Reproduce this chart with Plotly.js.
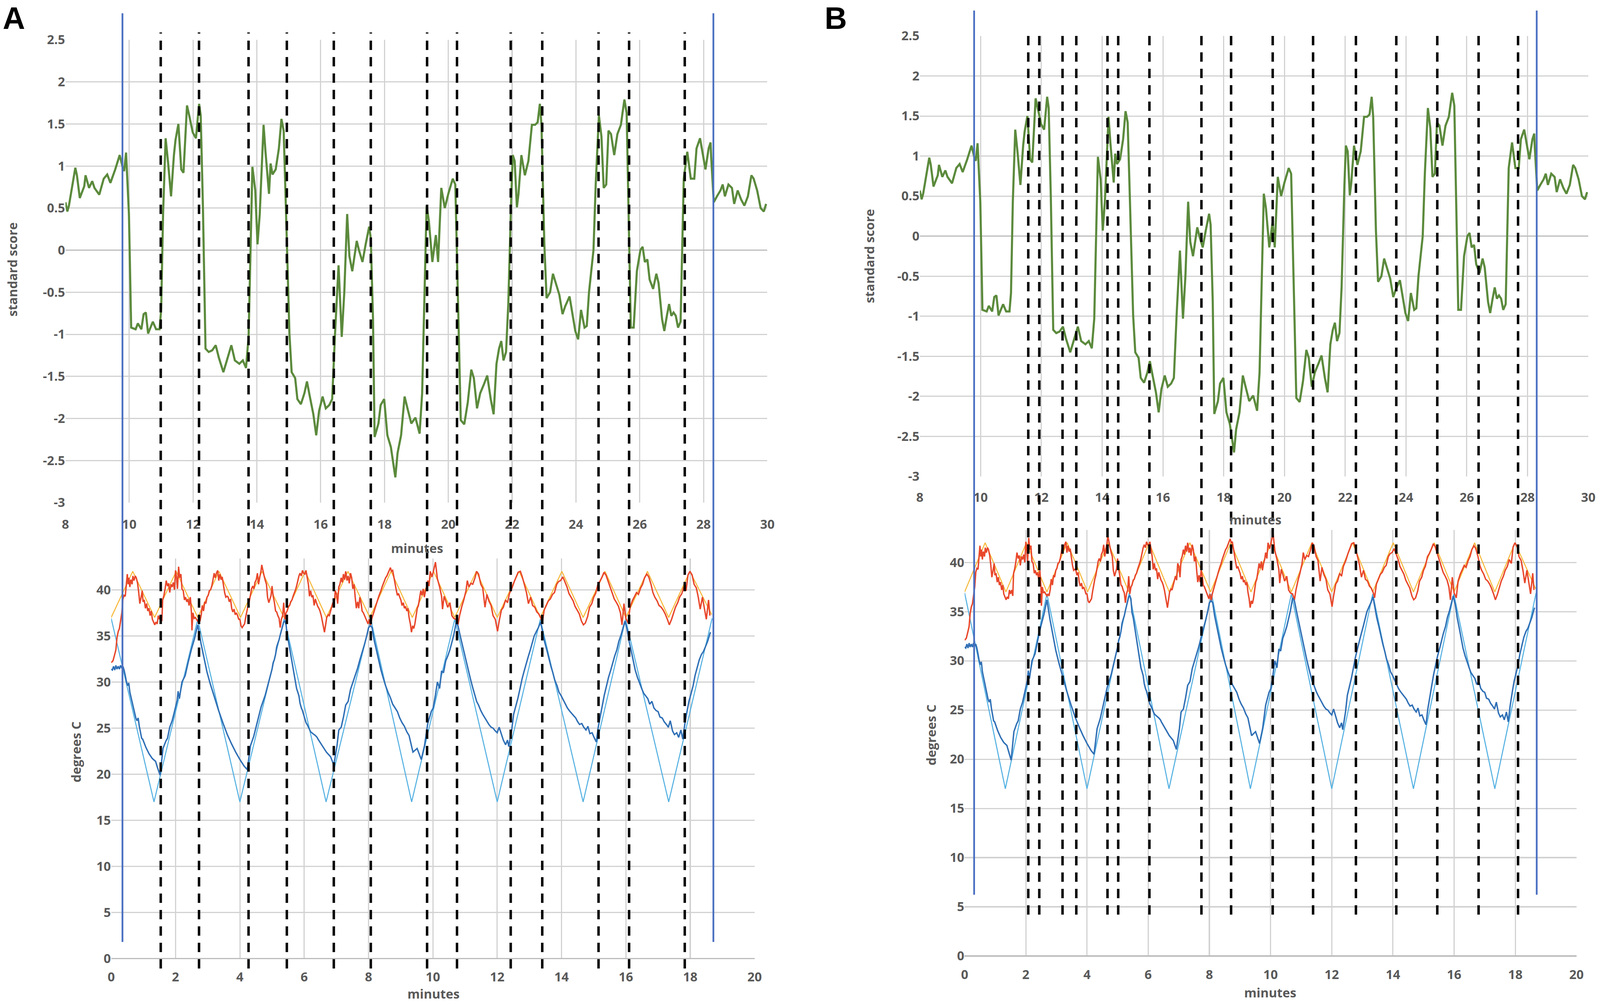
<!DOCTYPE html>
<html>
<head>
<meta charset="utf-8">
<script src="https://cdn.plot.ly/plotly-3.0.1.min.js"></script>
<style>
  html, body { margin: 0; padding: 0; background: #ffffff; overflow: hidden; }
  #gd { width: 100vw; height: 100vh; }
</style>
</head>
<body>
<div id="gd"></div>
<script>
// standard score (top panels), [minute, score]
const scorePts = [
  [8.0,0.57],[8.06,0.46],[8.11,0.53],[8.24,0.80],[8.31,0.98],[8.36,0.89],[8.45,0.62],[8.59,0.76],[8.63,0.89],[8.74,0.74],
  [8.84,0.82],[8.91,0.74],[9.06,0.66],[9.2,0.85],[9.31,0.90],[9.41,0.80],[9.56,0.96],[9.7,1.13],[9.79,0.99],[9.84,0.94],
  [9.9,1.16],[9.99,0.43],[10.06,-0.92],[10.2,-0.94],[10.27,-0.87],[10.38,-0.94],[10.45,-0.76],[10.52,-0.74],[10.59,-0.99],[10.74,-0.85],
  [10.84,-0.94],[10.95,-0.94],[11.0,-0.71],[11.06,0.43],[11.14,1.33],[11.22,1.03],[11.31,0.64],[11.4,1.13],[11.45,1.31],[11.54,1.50],
  [11.63,0.96],[11.7,0.92],[11.81,1.72],[11.88,1.60],[11.99,1.40],[12.09,1.33],[12.19,1.74],[12.24,1.60],[12.31,0.50],[12.39,-1.17],
  [12.49,-1.21],[12.6,-1.19],[12.71,-1.13],[12.81,-1.28],[12.95,-1.45],[13.06,-1.31],[13.2,-1.13],[13.31,-1.31],[13.45,-1.35],[13.56,-1.31],
  [13.66,-1.40],[13.74,-1.03],[13.81,0.25],[13.86,0.99],[13.95,0.71],[14.02,0.07],[14.09,0.43],[14.13,0.78],[14.21,1.49],[14.27,1.17],
  [14.38,0.67],[14.43,1.03],[14.49,0.90],[14.59,0.96],[14.69,1.21],[14.77,1.56],[14.84,1.42],[14.91,0.50],[15.02,-0.99],[15.09,-1.45],
  [15.2,-1.52],[15.27,-1.77],[15.38,-1.83],[15.49,-1.70],[15.57,-1.56],[15.66,-1.74],[15.77,-1.95],[15.86,-2.20],[15.95,-1.91],[16.06,-1.74],
  [16.16,-1.88],[16.27,-1.84],[16.36,-1.77],[16.45,-0.99],[16.56,-0.18],[16.66,-1.03],[16.74,-0.50],[16.83,0.43],[16.9,-0.07],[16.99,-0.25],
  [17.13,0.11],[17.2,0.00],[17.31,-0.14],[17.41,0.07],[17.52,0.28],[17.57,0.14],[17.64,-0.82],[17.69,-2.22],[17.81,-2.06],[17.88,-1.84],
  [17.99,-1.77],[18.09,-2.20],[18.2,-2.34],[18.34,-2.70],[18.41,-2.41],[18.52,-2.20],[18.63,-1.74],[18.74,-1.91],[18.84,-2.06],[18.97,-1.99],
  [19.1,-2.18],[19.18,-1.70],[19.25,-0.64],[19.32,0.53],[19.39,0.35],[19.5,-0.14],[19.61,0.18],[19.68,-0.14],[19.78,0.74],[19.89,0.50],
  [20.0,0.67],[20.14,0.85],[20.22,0.78],[20.29,-0.28],[20.39,-2.02],[20.5,-2.07],[20.61,-1.81],[20.72,-1.42],[20.8,-1.52],[20.9,-1.88],
  [21.0,-1.70],[21.11,-1.60],[21.22,-1.49],[21.33,-1.77],[21.42,-1.95],[21.51,-1.35],[21.59,-1.17],[21.66,-1.08],[21.73,-1.31],[21.81,-1.21],
  [21.88,-0.64],[21.97,0.60],[22.02,1.13],[22.08,1.06],[22.15,0.51],[22.2,0.67],[22.29,1.13],[22.4,0.89],[22.51,1.06],[22.62,1.49],
  [22.72,1.49],[22.8,1.52],[22.87,1.74],[22.92,1.49],[23.01,0.07],[23.08,-0.57],[23.19,-0.50],[23.28,-0.28],[23.37,-0.39],[23.48,-0.53],
  [23.58,-0.76],[23.66,-0.67],[23.8,-0.55],[23.91,-0.78],[23.98,-0.96],[24.07,-1.06],[24.16,-0.71],[24.27,-0.92],[24.34,-0.90],[24.41,-0.50],
  [24.48,-0.25],[24.55,0.00],[24.62,0.78],[24.72,1.60],[24.8,1.35],[24.87,0.74],[24.95,0.78],[25.02,1.42],[25.1,1.38],[25.2,1.13],
  [25.3,1.38],[25.41,1.49],[25.46,1.63],[25.52,1.79],[25.59,1.63],[25.65,0.43],[25.72,-0.92],[25.81,-0.92],[25.91,-0.25],[26.02,0.00],
  [26.09,0.04],[26.16,-0.14],[26.24,-0.11],[26.31,-0.35],[26.42,-0.46],[26.52,-0.28],[26.59,-0.39],[26.7,-0.82],[26.77,-0.96],[26.85,-0.78],
  [26.92,-0.64],[26.99,-0.78],[27.06,-0.74],[27.13,-0.78],[27.2,-0.92],[27.28,-0.85],[27.33,0.07],[27.38,0.85],[27.49,1.17],[27.6,0.85],
  [27.71,0.85],[27.78,1.21],[27.89,1.33],[27.97,1.17],[28.06,0.96],[28.16,1.21],[28.22,1.28],[28.24,1.10],[28.32,0.57],[28.42,0.64],
  [28.53,0.71],[28.6,0.78],[28.67,0.64],[28.78,0.78],[28.89,0.74],[28.96,0.55],[29.07,0.71],[29.18,0.60],[29.28,0.53],[29.39,0.64],
  [29.5,0.89],[29.57,0.85],[29.68,0.71],[29.79,0.50],[29.89,0.46],[29.96,0.55]
];

// measured warm-side temperature (red), [minute, degrees C]
const warmPts = [
  [0,32.1],[0.055,32.3],[0.11,33.0],[0.146,33.5],[0.18,34.8],[0.22,35.5],[0.255,35.8],[0.29,36.6],[0.33,37.5],[0.364,39.0],
  [0.40,39.4],[0.437,39.3],[0.47,40.8],[0.50,41.7],[0.53,40.6],[0.55,41.3],[0.58,40.3],[0.61,41.1],[0.65,40.6],[0.674,41.5],
  [0.71,41.0],[0.747,41.5],[0.78,41.3],[0.82,40.7],[0.856,39.7],[0.89,38.5],[0.93,39.2],[0.965,39.9],[0.99,38.7],[1.027,38.9],
  [1.064,38.0],[1.10,38.5],[1.137,37.7],[1.173,38.0],[1.21,37.2],[1.246,37.7],[1.28,36.8],[1.32,36.5],[1.355,36.2],[1.39,36.5],
  [1.43,36.3],[1.464,37.2],[1.50,36.8],[1.537,37.2],[1.574,36.6],[1.60,38.9],[1.64,39.4],[1.676,40.1],[1.71,41.0],[1.75,40.4],
  [1.785,40.7],[1.82,39.7],[1.86,40.6],[1.894,40.3],[1.93,40.8],[1.967,40.0],[2.0,42.1],[2.03,41.4],[2.06,40.1],[2.095,42.5],
  [2.13,41.3],[2.167,41.7],[2.2,40.1],[2.24,39.9],[2.277,38.9],[2.31,39.2],[2.35,38.7],[2.386,39.0],[2.42,38.3],[2.46,39.2],
  [2.495,37.5],[2.51,35.6],[2.54,37.5],[2.58,36.9],[2.616,37.0],[2.65,36.8],[2.69,36.6],[2.725,36.8],[2.76,36.6],[2.8,37.3],
  [2.83,38.3],[2.87,37.7],[2.907,38.7],[2.94,38.5],[2.98,39.2],[3.016,39.4],[3.05,39.9],[3.09,40.0],[3.126,40.4],[3.16,41.0],
  [3.2,41.8],[3.235,41.3],[3.27,41.8],[3.31,42.1],[3.344,41.0],[3.38,41.7],[3.417,41.1],[3.45,41.4],[3.49,40.6],[3.526,39.7],
  [3.563,39.2],[3.6,39.3],[3.636,39.2],[3.67,38.7],[3.71,39.0],[3.745,38.0],[3.78,37.6],[3.82,37.9],[3.854,37.3],[3.89,37.5],
  [3.93,37.2],[3.964,36.8],[4.0,36.8],[4.036,36.1],[4.07,35.9],[4.11,36.1],[4.146,36.3],[4.18,37.0],[4.22,37.7],[4.255,38.3],
  [4.29,38.7],[4.33,39.4],[4.364,40.1],[4.4,40.4],[4.437,40.1],[4.47,40.8],[4.51,41.1],[4.546,41.8],[4.58,40.6],[4.62,41.4],
  [4.655,42.0],[4.68,42.7],[4.72,42.0],[4.754,41.5],[4.79,41.0],[4.827,40.6],[4.86,39.2],[4.9,38.6],[4.936,39.0],[4.97,39.4],
  [5.0,40.4],[5.035,39.3],[5.07,38.7],[5.11,37.7],[5.144,37.6],[5.18,37.2],[5.22,36.9],[5.254,35.9],[5.29,36.8],[5.33,37.2],
  [5.363,38.6],[5.4,36.8],[5.436,37.5],[5.47,37.7],[5.51,38.2],[5.545,38.3],[5.58,38.7],[5.62,38.9],[5.654,39.3],[5.69,39.6],
  [5.73,40.0],[5.763,40.4],[5.8,41.0],[5.836,41.5],[5.87,41.8],[5.91,41.5],[5.946,42.1],[5.98,41.8],[6.02,41.7],[6.055,42.1],
  [6.09,41.4],[6.13,40.6],[6.164,39.3],[6.2,39.9],[6.237,39.2],[6.27,39.4],[6.31,38.3],[6.346,39.0],[6.38,38.6],[6.42,38.2],
  [6.456,38.0],[6.49,37.7],[6.53,37.2],[6.565,36.6],[6.6,36.1],[6.63,35.4],[6.67,36.3],[6.70,37.0],[6.75,37.3],[6.78,37.2],
  [6.82,37.7],[6.856,38.2],[6.89,38.6],[6.93,38.2],[6.965,39.9],[7.0,39.6],[7.04,38.5],[7.075,40.3],[7.11,40.6],[7.15,41.3],
  [7.185,40.8],[7.22,41.7],[7.257,41.1],[7.29,42.0],[7.33,41.0],[7.366,41.5],[7.4,40.7],[7.44,41.8],[7.476,41.3],[7.51,40.1],
  [7.55,40.6],[7.585,39.2],[7.62,38.0],[7.66,38.7],[7.695,38.0],[7.73,39.2],[7.767,38.6],[7.8,37.7],[7.84,37.5],[7.876,37.2],
  [7.91,36.9],[7.95,36.6],[7.985,36.3],[8.02,36.8],[8.06,36.1],[8.095,36.8],[8.13,37.2],[8.17,37.7],[8.204,38.0],[8.24,38.5],
  [8.277,38.9],[8.31,39.2],[8.35,39.6],[8.386,39.9],[8.42,40.3],[8.46,40.7],[8.495,41.0],[8.53,41.3],[8.57,41.5],[8.605,41.8],
  [8.64,42.0],[8.68,42.4],[8.714,42.0],[8.75,42.1],[8.787,41.4],[8.82,40.7],[8.86,40.0],[8.896,39.4],[8.93,39.6],[8.97,39.2],
  [9.005,38.9],[9.04,38.3],[9.08,38.6],[9.115,38.0],[9.15,38.2],[9.19,37.7],[9.225,38.0],[9.26,37.0],[9.3,36.3],[9.334,35.4],
  [9.37,36.1],[9.406,35.8],[9.44,36.3],[9.48,37.2],[9.515,38.0],[9.55,38.3],[9.59,39.2],[9.625,39.9],[9.66,39.4],[9.7,40.1],
  [9.735,39.2],[9.77,39.9],[9.807,40.3],[9.84,41.0],[9.88,40.4],[9.917,42.0],[9.97,41.4],
  [10.01,41.9],[10.08,43.0],[10.14,41.2],[10.21,40.3],[10.27,39.3],[10.30,37.9],[10.35,39.3],[10.4,38.8],[10.46,38.1],[10.53,38.6],
  [10.59,37.2],[10.65,36.9],[10.72,36.8],[10.78,36.2],[10.83,37.2],[10.9,38.2],[10.96,38.9],[11.03,39.9],[11.07,41.0],[11.12,40.3],
  [11.18,40.7],[11.24,40.6],[11.31,41.3],[11.36,42.0],[11.42,41.7],[11.49,40.6],[11.55,40.2],[11.62,38.1],[11.68,39.5],[11.74,38.8],
  [11.81,38.3],[11.87,37.2],[11.94,36.8],[12.01,35.5],[12.06,36.6],[12.13,37.8],[12.19,38.1],[12.26,38.9],[12.32,38.6],[12.38,39.6],
  [12.46,40.2],[12.53,40.9],[12.59,41.4],[12.65,41.9],[12.72,42.0],[12.78,41.4],[12.85,40.5],[12.91,39.7],[12.97,38.5],[13.04,39.2],
  [13.1,38.3],[13.17,38.1],[13.23,37.6],[13.29,37.4],[13.36,36.9],[13.4,36.4],[13.46,37.8],[13.53,38.3],[13.59,38.8],[13.65,39.0],
  [13.72,39.5],[13.78,39.7],[13.85,40.6],[13.91,40.9],[13.97,41.0],[14.04,41.4],[14.1,40.9],[14.17,40.3],[14.23,39.6],[14.29,39.2],
  [14.36,38.8],[14.42,38.2],[14.49,37.8],[14.55,37.4],[14.62,36.6],[14.68,36.2],[14.74,36.4],[14.81,37.1],[14.87,38.1],[14.94,38.5],
  [15.0,39.2],[15.06,39.6],[15.13,40.6],[15.19,40.9],[15.26,41.4],[15.32,41.9],[15.38,41.6],[15.45,40.9],[15.51,40.2],[15.58,39.5],
  [15.64,39.0],[15.71,38.6],[15.77,38.2],[15.83,37.5],[15.88,36.2],[15.94,38.5],[16.0,36.9],[16.07,36.4],[16.13,38.1],[16.2,38.8],
  [16.26,39.2],[16.33,39.7],[16.39,39.5],[16.46,40.2],[16.52,40.6],[16.58,41.3],[16.65,41.7],[16.71,41.4],[16.78,40.6],[16.84,39.7],
  [16.9,39.2],[16.97,38.8],[17.03,38.3],[17.1,38.1],[17.16,37.8],[17.22,37.4],[17.29,36.8],[17.35,36.2],[17.42,36.8],[17.48,37.5],
  [17.54,38.1],[17.61,38.6],[17.67,39.2],[17.74,39.6],[17.8,40.3],[17.87,39.9],[17.93,41.6],[17.99,42.0],[18.06,41.6],[18.12,40.6],
  [18.19,40.2],[18.25,39.2],[18.31,37.9],[18.38,39.2],[18.44,38.1],[18.5,36.8],[18.57,38.9],[18.61,37.2]
];

// measured cold-side temperature (dark blue)
const coldPts = [
  [0,31.4],[0.036,31.3],[0.073,31.7],[0.11,31.3],[0.146,31.8],[0.18,31.4],[0.22,31.7],[0.255,31.4],[0.29,31.8],[0.33,31.5],
  [0.364,31.7],[0.40,31.3],[0.437,30.7],[0.47,30.1],[0.51,29.6],[0.546,29.9],[0.58,28.9],[0.62,28.3],[0.656,27.7],[0.69,27.2],
  [0.73,26.6],[0.765,26.1],[0.80,25.8],[0.838,26.1],[0.874,25.2],[0.91,24.5],[0.947,23.9],[0.98,23.8],[1.08,22.9],[1.18,22.2],
  [1.28,21.7],[1.38,21.4],[1.44,20.7],[1.52,19.9],[1.61,22.8],[1.7,23.6],[1.75,23.9],[1.82,25.1],[1.894,25.8],[1.967,26.8],
  [2.05,28.0],[2.08,29.0],[2.12,28.2],[2.2,30.0],[2.3,30.7],[2.39,32.1],[2.49,33.5],[2.59,34.7],[2.69,36.2],[2.79,34.2],
  [2.89,32.6],[2.98,31.05],[3.08,29.8],[3.21,28.3],[3.34,26.9],[3.48,25.5],[3.61,24.3],[3.74,23.3],[3.87,22.4],[4.0,21.6],
  [4.13,20.9],[4.23,20.5],[4.33,23.1],[4.43,24.1],[4.52,25.4],[4.66,27.3],[4.79,28.6],[4.92,30.4],[5.0,31.4],[5.035,32.1],
  [5.07,32.4],[5.11,33.0],[5.144,33.8],[5.18,34.2],[5.22,34.6],[5.254,35.1],[5.29,35.6],[5.33,36.1],[5.363,36.5],[5.4,36.6],
  [5.436,36.3],[5.47,34.9],[5.51,34.4],[5.545,33.7],[5.58,33.0],[5.62,32.3],[5.654,31.5],[5.69,30.8],[5.73,30.1],[5.763,29.3],
  [5.8,28.9],[5.836,28.5],[5.87,27.7],[5.91,27.2],[5.946,26.9],[5.98,26.5],[6.02,26.1],[6.055,25.6],[6.09,25.4],[6.13,25.1],
  [6.2,24.6],[6.27,24.4],[6.346,24.2],[6.4,24.0],[6.43,23.8],[6.56,23.1],[6.69,22.4],[6.82,21.9],[6.92,21.0],[7.02,23.1],
  [7.075,24.8],[7.15,25.1],[7.22,26.2],[7.29,27.5],[7.366,27.9],[7.44,29.2],[7.51,29.9],[7.585,30.7],[7.66,31.5],[7.73,32.4],
  [7.8,33.2],[7.876,34.1],[7.95,35.1],[8.0,35.9],[8.06,36.1],[8.11,35.9],[8.17,34.6],[8.24,33.5],[8.31,32.4],[8.386,31.3],
  [8.46,30.4],[8.53,29.6],[8.605,28.9],[8.68,28.3],[8.75,27.6],[8.82,27.2],[8.896,26.8],[8.97,26.1],[9.04,25.6],[9.115,25.2],
  [9.19,24.6],[9.26,24.2],[9.38,22.4],[9.51,22.8],[9.64,21.6],[9.74,23.1],[9.84,25.5],
  [9.95,26.8],[10.01,27.2],[10.08,28.6],[10.14,30.0],[10.21,29.3],[10.27,31.2],[10.33,31.0],[10.4,32.3],[10.46,32.8],[10.53,33.5],
  [10.59,34.3],[10.65,35.1],[10.72,36.4],[10.78,36.1],[10.85,35.0],[10.91,34.1],[10.97,33.3],[11.04,32.3],[11.1,31.3],[11.17,30.3],
  [11.23,29.5],[11.29,28.8],[11.36,27.9],[11.42,27.5],[11.49,26.9],[11.55,26.5],[11.62,26.1],[11.68,25.8],[11.74,25.4],[11.81,25.1],
  [11.87,25.0],[11.94,24.7],[12.0,24.5],[12.06,25.1],[12.13,24.3],[12.19,23.7],[12.26,23.2],[12.32,23.7],[12.36,23.0],[12.45,24.8],
  [12.51,26.5],[12.58,27.4],[12.64,28.2],[12.71,29.3],[12.77,30.3],[12.83,31.1],[12.9,32.0],[12.96,32.7],[13.03,33.5],[13.09,34.3],
  [13.15,35.0],[13.22,35.5],[13.28,35.9],[13.35,36.5],[13.41,35.5],[13.47,34.4],[13.54,33.5],[13.6,32.6],[13.67,31.7],[13.73,31.0],
  [13.79,30.2],[13.86,29.6],[13.92,28.9],[13.99,28.5],[14.05,28.1],[14.12,27.6],[14.18,27.2],[14.24,26.9],[14.31,26.6],[14.37,26.4],
  [14.44,26.1],[14.5,25.7],[14.56,25.4],[14.63,25.5],[14.69,25.1],[14.76,24.8],[14.82,25.2],[14.88,24.4],[14.95,24.5],[15.01,24.0],
  [15.08,23.5],[15.14,25.1],[15.21,26.5],[15.27,27.5],[15.33,28.6],[15.4,29.6],[15.46,30.5],[15.53,31.3],[15.59,32.1],[15.65,32.8],
  [15.72,33.5],[15.78,34.4],[15.85,35.1],[15.91,35.9],[15.97,36.6],[16.04,35.7],[16.1,34.4],[16.17,33.3],[16.23,32.3],[16.29,31.3],
  [16.36,30.5],[16.42,29.9],[16.49,29.3],[16.55,28.8],[16.62,28.5],[16.68,28.2],[16.74,27.6],[16.81,27.9],[16.87,27.2],[16.94,26.9],
  [17.0,26.8],[17.06,26.2],[17.13,26.1],[17.19,25.7],[17.26,25.4],[17.32,25.1],[17.38,25.8],[17.45,24.7],[17.51,24.3],[17.58,24.5],
  [17.64,24.0],[17.71,24.8],[17.77,23.8],[17.83,25.4],[17.9,26.8],[17.96,27.9],[18.03,28.8],[18.09,29.6],[18.15,30.7],[18.22,31.6],
  [18.28,32.4],[18.35,33.0],[18.41,33.3],[18.47,33.8],[18.54,34.4],[18.6,35.1],[18.63,35.4]
];

// set-point profiles (corners of the triangle waves)
const warmSetPts = [
  [0,37],[0.67,42],[1.35,37],[2.02,42],[2.69,37],[3.35,42],[4.02,37],[4.69,42],[5.37,37],[6.03,42],
  [6.69,37],[7.36,42],[8.04,37],[8.7,42],[9.36,37],[10.02,42],[10.68,37],[11.35,42],[12.0,37],[12.68,42],
  [13.34,37],[14.01,42],[14.67,37],[15.35,42],[16.0,37],[16.67,42],[17.33,37],[17.99,42],[18.67,37.3]
];
const coldSetPts = [
  [0,36.9],[1.33,17],[2.69,36.8],[4.0,17],[5.38,36.9],[6.68,17],[8.07,36.8],[9.34,17],[10.68,36.8],[12.0,17],
  [13.34,36.8],[14.67,17],[15.99,36.8],[17.33,17],[18.68,36.9]
];

// event markers, in minutes of the lower panels
const dashA = [1.54, 2.73, 4.27, 5.46, 6.92, 8.07, 9.82, 10.75, 12.42, 13.40, 15.15, 16.10, 17.83];
const dashB = [2.08, 2.44, 3.20, 3.65, 4.67, 5.02, 6.04, 7.74, 8.71, 10.07, 11.39, 12.79, 14.11, 15.45, 16.80, 18.09];
const boundsA = [0.35, 18.72];
const boundsB = [0.31, 18.70];

// tick labels
const scoreTicks = [2.5, 2, 1.5, 1, 0.5, 0, -0.5, -1, -1.5, -2, -2.5, -3];
const scoreTickText = ['2.5', '2', '1.5', '1', '0.5', '0', '-0.5', '-1', '-1.5', '-2', '-2.5', '-3'];
const topMinuteTicks = [8, 10, 12, 14, 16, 18, 20, 22, 24, 26, 28, 30];
const bottomMinuteTicks = [0, 2, 4, 6, 8, 10, 12, 14, 16, 18, 20];
const degreeTicks = [0, 5, 10, 15, 20, 25, 30, 35, 40];

const green = '#5b8a3c';
const red = '#e8472b';
const gold = '#f6b93b';
const skyBlue = '#55b1e2';
const deepBlue = '#2f6fb5';
const markerBlue = '#4a6fc0';

// the design is laid out on a 4550 x 2576 sheet; scale pixel sizes to the real viewport
const W = window.innerWidth || 4550;
const H = window.innerHeight || 2576;
const sx = W / 4550, sy = H / 2576;
const s = Math.min(sx, sy);
const px = v => v * s;

const xs = pts => pts.map(p => p[0]);
const ys = pts => pts.map(p => p[1]);

const gd = document.getElementById('gd');

function line(pts, color, width, xa, ya) {
  return { x: xs(pts), y: ys(pts), type: 'scatter', mode: 'lines',
           line: { color: color, width: px(width) }, xaxis: xa, yaxis: ya, hoverinfo: 'skip' };
}

const data = [
  line(scorePts, green, 6, 'x', 'y'),
  line(warmSetPts, gold, 3, 'x2', 'y2'),
  line(coldSetPts, skyBlue, 3, 'x2', 'y2'),
  line(warmPts, red, 4, 'x2', 'y2'),
  line(coldPts, deepBlue, 4, 'x2', 'y2'),
  line(scorePts, green, 6, 'x3', 'y3'),
  line(warmSetPts, gold, 3, 'x4', 'y4'),
  line(coldSetPts, skyBlue, 3, 'x4', 'y4'),
  line(warmPts, red, 4, 'x4', 'y4'),
  line(coldPts, deepBlue, 4, 'x4', 'y4')
];

const tickFont = { family: 'Open Sans, sans-serif', size: px(36), color: '#595959', weight: 'bold' };
const grid = '#d2d2d2';

// labels are pushed off the plot edge with a standoff instead of ticks
function axis(domain, range, vals, text, gap, extra) {
  return Object.assign({
    domain: domain, range: range, tickvals: vals, ticktext: text || vals.map(String),
    showgrid: true, gridcolor: grid, gridwidth: px(3.4), zeroline: false, showline: false,
    ticks: '', ticklabelposition: 'outside', ticklabelstandoff: gap, tickfont: tickFont, fixedrange: true
  }, extra || {});
}

const zeroGray = { zeroline: true, zerolinecolor: '#bcbcbc', zerolinewidth: px(3.4) };

// vertical markers span both panels of a figure, so they live in paper space vertically
const shapes = [];
const dashPattern = (24 * sy) + 'px,' + (18 * sy) + 'px';
function markers(list, xref, y0, y1, color, width, dash) {
  list.forEach(t => shapes.push({
    type: 'line', xref: xref, yref: 'paper', x0: t, x1: t, y0: y0, y1: y1,
    line: { color: color, width: px(width), dash: dash }
  }));
}
markers(dashA, 'x2', 0.0373, 0.9678, '#000000', 7, dashPattern);
markers(boundsA, 'x2', 0.0637, 0.9868, markerBlue, 5, 'solid');
markers(dashB, 'x4', 0.0908, 0.9693, '#000000', 7, dashPattern);
markers(boundsB, 'x4', 0.1106, 0.9895, markerBlue, 5, 'solid');

const titleFont = { family: 'Open Sans, sans-serif', size: px(36), color: '#595959', weight: 'bold' };
function label(text, x, y, angle) {
  return { text: text, xref: 'paper', yref: 'paper', x: x / 4550, y: 1 - y / 2576,
           showarrow: false, textangle: angle || 0, font: titleFont, xanchor: 'center', yanchor: 'middle' };
}
const panelFont = { family: 'Liberation Sans Narrow, Liberation Sans, Arial, sans-serif', size: px(88), color: '#000000', weight: 'bold' };

const layout = {
  width: W, height: H,
  paper_bgcolor: '#ffffff', plot_bgcolor: '#ffffff',
  margin: { l: 0, r: 0, t: 0, b: 0 },
  showlegend: false,
  xaxis:  axis([0.0409, 0.4796], [8, 30], topMinuteTicks, null, 34 * sy, { anchor: 'y' }),
  yaxis:  axis([0.5004, 0.9604], [-3, 2.5], scoreTicks, scoreTickText, 58 * sx, Object.assign({ anchor: 'x' }, zeroGray)),
  xaxis2: axis([0.0695, 0.4716], [0, 20], bottomMinuteTicks, null, 25 * sy, { anchor: 'y2' }),
  yaxis2: axis([0.047, 0.4449], [0, 43.4], degreeTicks, null, 24 * sx, Object.assign({ anchor: 'x2' }, zeroGray)),
  xaxis3: axis([0.5749, 0.9927], [8, 30], topMinuteTicks, null, 32 * sy, { anchor: 'y3' }),
  yaxis3: axis([0.5264, 0.9643], [-3, 2.5], scoreTicks, scoreTickText, 30 * sx, Object.assign({ anchor: 'x3' }, zeroGray)),
  xaxis4: axis([0.6029, 0.9853], [0, 20], bottomMinuteTicks, null, 26 * sy, { anchor: 'y4' }),
  yaxis4: axis([0.0497, 0.4732], [0, 43.3], degreeTicks, null, 22 * sx, Object.assign({ anchor: 'x4' }, zeroGray)),
  shapes: shapes,
  annotations: [
    { text: 'A', xref: 'paper', yref: 'paper', x: 39 / 4550, y: 1 - 46 / 2576, showarrow: false, font: panelFont, xanchor: 'center', yanchor: 'middle' },
    { text: 'B', xref: 'paper', yref: 'paper', x: 2377 / 4550, y: 1 - 46 / 2576, showarrow: false, font: panelFont, xanchor: 'center', yanchor: 'middle' },
    label('standard score', 34, 690, -90),
    label('minutes', 1186, 1403),
    label('degrees C', 216, 1925, -90),
    label('minutes', 1233, 2544),
    label('standard score', 2472, 656, -90),
    label('minutes', 3570, 1330),
    label('degrees C', 2647, 1882, -90),
    label('minutes', 3613, 2541)
  ]
};

Plotly.newPlot(gd, data, layout, { displayModeBar: false, staticPlot: true });
</script>
</body>
</html>
